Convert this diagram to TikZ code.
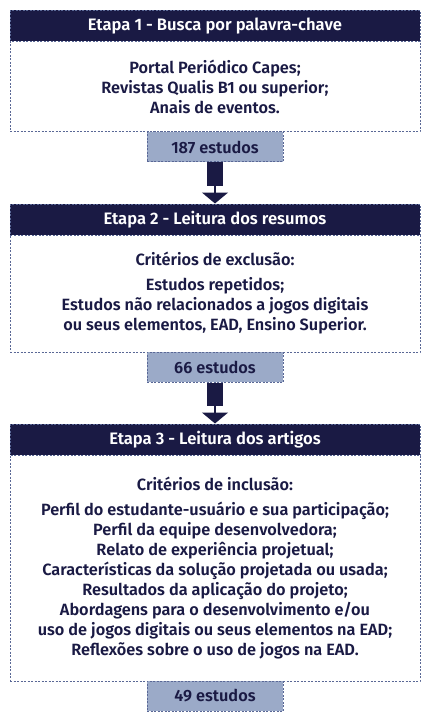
\documentclass[tikz,border=0pt]{standalone}
\usepackage{fontspec}
\setmainfont{Fira Sans}[BoldFont={Fira Sans SemiBold}]
\usetikzlibrary{arrows.meta}

\definecolor{navy}{RGB}{26,26,68}
\definecolor{steel}{RGB}{155,170,200}
\definecolor{border}{RGB}{90,104,150}

\begin{document}
\begin{tikzpicture}[x = 1pt, y = 1pt, line width = 1pt,
                        header/.style = {rectangle, draw = border, dash pattern = on 2pt off 1.5pt, fill = navy, text = white, minimum width = 410pt, minimum height = 31pt, inner sep = 0pt, font = \bfseries\fontsize{16.6}{20}\selectfont},
                        content/.style = {rectangle, draw = border, dash pattern = on 2pt off 1.5pt, fill = white, text = navy, minimum width = 410pt, inner sep = 0pt, align = center, font = \bfseries\fontsize{16.3}{20}\selectfont},
                        count/.style = {rectangle, draw = border, dash pattern = on 2pt off 1.5pt, fill = steel, text = navy, minimum width = 136pt, minimum height = 30pt, inner sep = 0pt, font = \bfseries\fontsize{16.3}{20}\selectfont},
                        shaft/.style = {draw = navy, line width = 16pt},
                        tip/.style = {draw = navy, line width = 1.5pt, -{Triangle[width = 26pt, length = 11pt]}}]
        \useasboundingbox (0,0) rectangle (431,-722);

        \node [header] (H1) at (215,-25.75) {Etapa 1 - Busca por palavra-chave};
        \node [content, minimum height = 90.5pt] (B1) at (215,-86.75) {Portal Periódico Capes;\\ Revistas Qualis B1 ou superior;\\ Anais de eventos.};
        \node [count] (C1) at (215,-147) {187 estudos};

        \node [header] (H2) at (215,-219.5) {Etapa 2 - Leitura dos resumos};
        \node [content, minimum height = 117pt] (B2) at (215,-293.5) {Critérios de exclusão:\\[5pt] Estudos repetidos;\\ Estudos não relacionados a jogos digitais\\ ou seus elementos, EAD, Ensino Superior.};
        \node [count] (C2) at (215,-367) {66 estudos};

        \node [header] (H3) at (215,-439.5) {Etapa 3 - Leitura dos artigos};
        \node [content, minimum height = 226pt] (B3) at (215,-568) {Critérios de inclusão:\\[5pt] Perfil do estudante-usuário e sua participação;\\ Perfil da equipe desenvolvedora;\\ Relato de experiência projetual;\\ Características da solução projetada ou usada;\\ Resultados da aplicação do projeto;\\ Abordagens para o desenvolvimento e/ou\\ uso de jogos digitais ou seus elementos na EAD;\\ Reflexões sobre o uso de jogos na EAD.};
        \node [count] (C3) at (215,-696) {49 estudos};

        \coordinate (N1) at (215,-186);
        \coordinate (N2) at (215,-406);

        \draw [shaft] (C1.south) -- (N1);
        \draw [tip] (N1) -- (H2.north);
        \draw [shaft] (C2.south) -- (N2);
        \draw [tip] (N2) -- (H3.north);
        \end{tikzpicture}
\end{document}
